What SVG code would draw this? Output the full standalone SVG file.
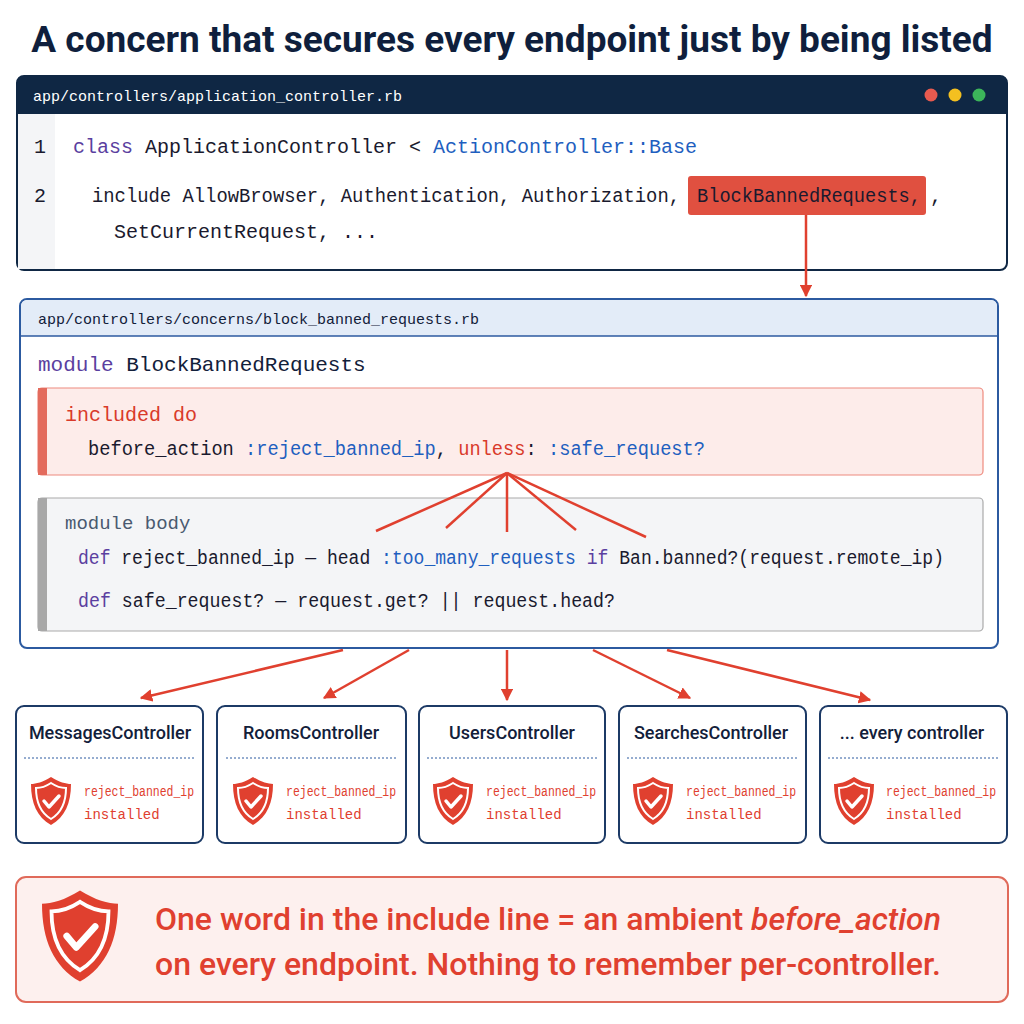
<svg xmlns="http://www.w3.org/2000/svg" width="1024" height="1024" viewBox="0 0 1024 1024">
<style>
.mono{font-family:"Liberation Mono","DejaVu Sans Mono",monospace}
.sans{font-family:"Roboto","Liberation Sans",sans-serif}
.code{font-size:20px;fill:#1a1a2e}
.kw{fill:#5b3fa0}
.bl{fill:#1f5fbf}
.rd{fill:#d93a2b}
.ct{font-size:18px;font-weight:500;fill:#12203a}
.ci{font-size:14px;fill:#e0402f}
.card{fill:#fff;stroke:#1c3a66;stroke-width:2}
.fl{stroke:#e0402f;stroke-width:2.5;fill:none}
</style>
<defs>
<marker id="ah" viewBox="0 0 10 10" refX="9" refY="5" markerWidth="5" markerHeight="5" orient="auto"><path d="M0,0L10,5L0,10z" fill="#e0402f"/></marker>
<g id="shield"><path d="M0,-24 C8,-19 15,-17 20,-17 C20,2 14,16 0,24 C-14,16 -20,2 -20,-17 C-15,-17 -8,-19 0,-24z" fill="#e0402f"/><path d="M0,-18 C6,-14 11,-13 15,-13 C15,1 10,12 0,18 C-10,12 -15,1 -15,-13 C-11,-13 -6,-14 0,-18z" fill="none" stroke="#fff" stroke-width="2"/><path d="M-7,0 L-2,6 L8,-5" fill="none" stroke="#fff" stroke-width="3.5" stroke-linecap="round" stroke-linejoin="round"/></g>
</defs>
<rect width="1024" height="1024" fill="#fff"/>
<text x="512" y="52" text-anchor="middle" class="sans" font-size="37" font-weight="700" fill="#0f1f3d">A concern that secures every endpoint just by being listed</text>

<g id="appcontroller">
<rect x="17" y="76" width="990" height="194" rx="7" fill="#fff" stroke="#0f2744" stroke-width="2"/>
<path d="M17,114 V83 a7,7 0 0 1 7,-7 H1000 a7,7 0 0 1 7,7 V114z" fill="#0f2744"/>
<rect x="18" y="114" width="37" height="155" fill="#f4f5f7"/>
<text x="33" y="101" class="mono" font-size="15" fill="#fff">app/controllers/application_controller.rb</text>
<circle cx="931" cy="95" r="6.5" fill="#e85a4f"/><circle cx="955" cy="95" r="6.5" fill="#f4c020"/><circle cx="979" cy="95" r="6.5" fill="#3cb55a"/>
<text x="34" y="153" class="mono code" fill="#888">1</text>
<text x="34" y="202" class="mono code" fill="#888">2</text>
<text x="73" y="153" class="mono code"><tspan class="kw">class</tspan> ApplicationController &lt; <tspan class="bl">ActionController::Base</tspan></text>
<rect x="688" y="176" width="238" height="39" rx="3" fill="#e05040"/>
<text x="92" y="202" class="mono code" textLength="588" lengthAdjust="spacingAndGlyphs">include AllowBrowser, Authentication, Authorization,</text>
<text x="697" y="202" class="mono code" fill="#fff" textLength="224" lengthAdjust="spacingAndGlyphs">BlockBannedRequests,</text>
<text x="930" y="202" class="mono code">,</text>
<text x="114" y="238" class="mono code">SetCurrentRequest, ...</text>
</g>

<g id="connectors">
<line x1="806" y1="215" x2="806" y2="296" class="fl" marker-end="url(#ah)"/>
<line x1="343" y1="650" x2="141" y2="698" class="fl" marker-end="url(#ah)"/>
<line x1="409" y1="650" x2="324" y2="698" class="fl" marker-end="url(#ah)"/>
<line x1="507" y1="650" x2="507" y2="700" class="fl" marker-end="url(#ah)"/>
<line x1="593" y1="650" x2="690" y2="698" class="fl" marker-end="url(#ah)"/>
<line x1="667" y1="650" x2="870" y2="700" class="fl" marker-end="url(#ah)"/>
</g>

<g id="concern">
<rect x="20" y="299" width="978" height="349" rx="7" fill="#fff" stroke="#2c5aa0" stroke-width="2"/>
<path d="M21,336 V306 a6,6 0 0 1 6,-6 H991 a6,6 0 0 1 6,6 V336z" fill="#e3ecf8"/>
<line x1="21" y1="336" x2="997" y2="336" stroke="#2c5aa0" stroke-width="1.5"/>
<text x="38" y="324" class="mono" font-size="15" fill="#12203a">app/controllers/concerns/block_banned_requests.rb</text>
<text x="38" y="371" class="mono" font-size="21" fill="#12203a"><tspan class="kw">module</tspan> BlockBannedRequests</text>
<rect x="38" y="388" width="945" height="87" rx="4" fill="#fdecea" stroke="#ee8a7e" stroke-width="1.2"/>
<rect x="38" y="388" width="9" height="87" fill="#e36b5d"/>
<text x="65" y="421" class="mono code rd">included do</text>
<text x="88" y="455" class="mono code" textLength="617" lengthAdjust="spacingAndGlyphs">before_action <tspan class="bl">:reject_banned_ip</tspan>,  <tspan class="rd">unless</tspan>: <tspan class="bl">:safe_request?</tspan></text>
<rect x="38" y="498" width="945" height="133" rx="4" fill="#f4f5f7" stroke="#aaa" stroke-width="1.2"/>
<rect x="38" y="498" width="9" height="133" fill="#a8a8a8"/>
<text x="65" y="529" class="mono" font-size="19" fill="#4a5a70">module body</text>
<text x="78" y="564" class="mono code" textLength="866" lengthAdjust="spacingAndGlyphs"><tspan class="kw">def</tspan> reject_banned_ip — head <tspan class="bl">:too_many_requests</tspan> <tspan class="kw">if</tspan> Ban.banned?(request.remote_ip)</text>
<text x="78" y="607" class="mono code" textLength="537" lengthAdjust="spacingAndGlyphs"><tspan class="kw">def</tspan> safe_request? — request.get? || request.head?</text>
<g class="fl"><line x1="507" y1="473" x2="376" y2="531"/><line x1="507" y1="473" x2="446" y2="528"/><line x1="507" y1="473" x2="507" y2="532"/><line x1="507" y1="473" x2="576" y2="530"/><line x1="507" y1="473" x2="646" y2="537"/></g>
</g>

<g id="messages"><rect x="16" y="706" width="187" height="137" rx="8" class="card"/><text x="110" y="739" text-anchor="middle" class="sans ct">MessagesController</text><line x1="24" y1="758" x2="196" y2="758" stroke="#2c5aa0" stroke-dasharray="2,2"/><use href="#shield" x="51" y="801"/><text x="84" y="796" class="mono ci" textLength="110" lengthAdjust="spacingAndGlyphs">reject_banned_ip</text><text x="84" y="819" class="mono ci">installed</text></g>
<g id="rooms"><rect x="217" y="706" width="189" height="137" rx="8" class="card"/><text x="311" y="739" text-anchor="middle" class="sans ct">RoomsController</text><line x1="226" y1="758" x2="398" y2="758" stroke="#2c5aa0" stroke-dasharray="2,2"/><use href="#shield" x="253" y="801"/><text x="286" y="796" class="mono ci" textLength="110" lengthAdjust="spacingAndGlyphs">reject_banned_ip</text><text x="286" y="819" class="mono ci">installed</text></g>
<g id="users"><rect x="419" y="706" width="186" height="137" rx="8" class="card"/><text x="512" y="739" text-anchor="middle" class="sans ct">UsersController</text><line x1="427" y1="758" x2="598" y2="758" stroke="#2c5aa0" stroke-dasharray="2,2"/><use href="#shield" x="453" y="801"/><text x="486" y="796" class="mono ci" textLength="110" lengthAdjust="spacingAndGlyphs">reject_banned_ip</text><text x="486" y="819" class="mono ci">installed</text></g>
<g id="searches"><rect x="619" y="706" width="187" height="137" rx="8" class="card"/><text x="711" y="739" text-anchor="middle" class="sans ct">SearchesController</text><line x1="627" y1="758" x2="799" y2="758" stroke="#2c5aa0" stroke-dasharray="2,2"/><use href="#shield" x="653" y="801"/><text x="686" y="796" class="mono ci" textLength="110" lengthAdjust="spacingAndGlyphs">reject_banned_ip</text><text x="686" y="819" class="mono ci">installed</text></g>
<g id="every"><rect x="820" y="706" width="187" height="137" rx="8" class="card"/><text x="912" y="739" text-anchor="middle" class="sans ct">... every controller</text><line x1="828" y1="758" x2="1000" y2="758" stroke="#2c5aa0" stroke-dasharray="2,2"/><use href="#shield" x="854" y="801"/><text x="886" y="796" class="mono ci" textLength="110" lengthAdjust="spacingAndGlyphs">reject_banned_ip</text><text x="886" y="819" class="mono ci">installed</text></g>

<g id="banner">
<rect x="16" y="877" width="992" height="125" rx="10" fill="#fdf0ee" stroke="#e06a5a" stroke-width="2"/>
<use href="#shield" transform="translate(80,936) scale(1.9)"/>
<text x="548" y="930" text-anchor="middle" class="sans" font-size="32" font-weight="500" fill="#e0402f">One word in the include line = an ambient <tspan font-style="italic">before_action</tspan></text>
<text x="548" y="975" text-anchor="middle" class="sans" font-size="32" font-weight="500" fill="#e0402f">on every endpoint. Nothing to remember per-controller.</text>
</g>
</svg>
